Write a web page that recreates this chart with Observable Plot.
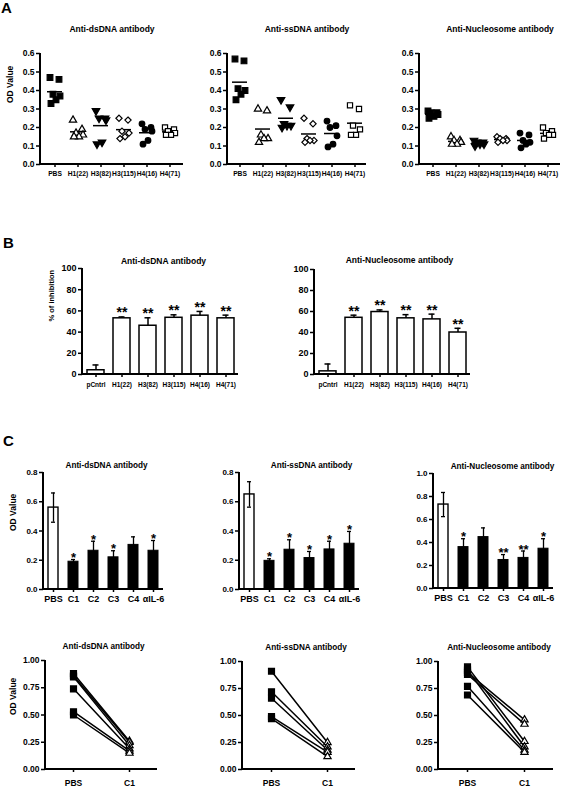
<!DOCTYPE html>
<html>
<head>
<meta charset="utf-8">
<script src="https://cdn.jsdelivr.net/npm/d3@7"></script>
<script src="https://cdn.jsdelivr.net/npm/@observablehq/plot@0.6"></script>
<style>
  html, body { margin: 0; padding: 0; background: #fff; }
  body { width: 563px; height: 787px; position: relative; overflow: hidden;
         font-family: "Liberation Sans", Arial, Helvetica, sans-serif; }
  .letter { position: absolute; font-weight: bold; font-size: 15px; line-height: 15px; color: #000; }
</style>
</head>
<body>
<div class="letter" style="left:1px;top:0px">A</div>
<div class="letter" style="left:3px;top:235px">B</div>
<div class="letter" style="left:3px;top:433px">C</div>
<script>
// ---------------- categories & ticks ----------------
const peptideCats = ["PBS", "H1(22)", "H3(82)", "H3(115)", "H4(16)", "H4(71)"];
const inhibCats = ["pCntrl", "H1(22)", "H3(82)", "H3(115)", "H4(16)", "H4(71)"];
const treatCats = ["PBS", "C1", "C2", "C3", "C4", "αIL-6"];
const pairCats = ["PBS", "C1"];

const aTicks = [0, 0.1, 0.2, 0.3, 0.4, 0.5, 0.6];
const bTicks = [0, 20, 40, 60, 80, 100];
const cTicks08 = [0, 0.2, 0.4, 0.6, 0.8];
const cTicks10 = [0, 0.2, 0.4, 0.6, 0.8, 1.0];
const dTicks = [0, 0.25, 0.5, 0.75, 1.0];

// ---------------- Panel A: OD value per mouse ----------------
const aDsDNA = [
  [0.47, 0.46, 0.38, 0.37, 0.35, 0.33],
  [0.24, 0.19, 0.17, 0.16, 0.15, 0.15],
  [0.29, 0.25, 0.25, 0.24, 0.12, 0.11],
  [0.25, 0.24, 0.18, 0.17, 0.15, 0.14],
  [0.22, 0.20, 0.19, 0.18, 0.13, 0.11],
  [0.20, 0.19, 0.18, 0.17, 0.16, 0.16]
];
const aSsDNA = [
  [0.57, 0.56, 0.41, 0.40, 0.38, 0.35],
  [0.30, 0.29, 0.16, 0.14, 0.14, 0.12],
  [0.35, 0.31, 0.22, 0.21, 0.21, 0.20],
  [0.25, 0.22, 0.14, 0.13, 0.13, 0.12],
  [0.235, 0.21, 0.20, 0.155, 0.11, 0.095],
  [0.32, 0.30, 0.21, 0.19, 0.16, 0.16]
];
const aNucleosome = [
  [0.29, 0.28, 0.28, 0.27, 0.26, 0.25],
  [0.15, 0.13, 0.13, 0.12, 0.11, 0.11],
  [0.13, 0.12, 0.12, 0.11, 0.11, 0.10],
  [0.15, 0.14, 0.14, 0.13, 0.13, 0.12],
  [0.17, 0.16, 0.13, 0.12, 0.11, 0.09],
  [0.20, 0.18, 0.17, 0.16, 0.16, 0.14]
];

// ---------------- Panel B: % of inhibition ----------------
const bDsMean = [4, 53, 46, 53.5, 55.5, 53];
const bDsErr = [5, 1.3, 7.5, 2.8, 4, 3];
const bDsStars = ["", "**", "**", "**", "**", "**"];
const bNucMean = [3, 54, 59.5, 53.5, 52.5, 40];
const bNucErr = [7, 2.5, 2, 3.5, 5, 4];
const bNucStars = ["", "**", "**", "**", "**", "**"];

// ---------------- Panel C (top): OD value bars ----------------
const cDsMean = [0.56, 0.19, 0.265, 0.22, 0.305, 0.265];
const cDsErr = [0.10, 0.015, 0.065, 0.045, 0.055, 0.07];
const cDsStars = ["", "*", "*", "*", "", "*"];
const cSsMean = [0.65, 0.196, 0.272, 0.215, 0.274, 0.313];
const cSsErr = [0.087, 0.014, 0.068, 0.045, 0.056, 0.084];
const cSsStars = ["", "*", "*", "*", "*", "*"];
const cNucMean = [0.73, 0.36, 0.447, 0.248, 0.266, 0.346];
const cNucErr = [0.105, 0.073, 0.08, 0.047, 0.06, 0.087];
const cNucStars = ["", "*", "", "**", "**", "*"];

// ---------------- Panel C (bottom): paired PBS -> C1 ----------------
const dDsPBS = [0.88, 0.86, 0.85, 0.74, 0.53, 0.50];
const dDsC1 = [0.26, 0.25, 0.22, 0.19, 0.17, 0.15];
const dSsPBS = [0.91, 0.72, 0.66, 0.49, 0.47];
const dSsC1 = [0.25, 0.21, 0.18, 0.16, 0.12];
const dNucPBS = [0.90, 0.88, 0.95, 0.92, 0.77, 0.69];
const dNucC1 = [0.46, 0.42, 0.26, 0.21, 0.18, 0.16];

// ---------------- helpers ----------------
const FONT = '"Liberation Sans", Arial, Helvetica, sans-serif';
const M = {l: 52, r: 14, t: 46, b: 30};

function axisFrame(index, scales, values, dims) {
  const {width, height, marginLeft, marginRight, marginTop, marginBottom} = dims;
  const p = document.createElementNS("http://www.w3.org/2000/svg", "path");
  p.setAttribute("d", `M${marginLeft},${marginTop}V${height - marginBottom}H${width - marginRight}`);
  p.setAttribute("fill", "none");
  p.setAttribute("stroke", "black");
  p.setAttribute("stroke-width", "2");
  return p;
}

function render(frame, options, baseFont) {
  const width = frame.x1 - frame.x0 + M.l + M.r;
  const height = frame.yBot - frame.yTop + M.t + M.b;
  const plot = Plot.plot({
    width, height,
    marginLeft: M.l, marginRight: M.r, marginTop: M.t, marginBottom: M.b,
    style: {fontFamily: FONT, fontWeight: "bold", fontSize: baseFont + "px",
            background: "transparent", overflow: "visible", color: "black"},
    ...options
  });
  const div = document.createElement("div");
  div.style.cssText = `position:absolute;left:${frame.x0 - M.l}px;top:${frame.yTop - M.t}px;width:${width}px;height:${height}px;`;
  div.appendChild(plot);
  document.body.appendChild(div);
}

function titleMark(title, dx, dy, size) {
  return Plot.text([title], {text: d => d, frameAnchor: "top", dx, dy, fontSize: size, fontWeight: "bold"});
}
function yLabelMark(label, dx, dy, size) {
  return Plot.text([label], {text: d => d, frameAnchor: "left", rotate: -90, dx, dy, fontSize: size, fontWeight: "bold"});
}

// inverted triangle symbol
const triDown = {
  draw(ctx, size) {
    const y = -Math.sqrt(size / (3 * Math.sqrt(3)));
    ctx.moveTo(0, -y * 2);
    ctx.lineTo(-Math.sqrt(3) * y, y);
    ctx.lineTo(Math.sqrt(3) * y, y);
    ctx.closePath();
  }
};
const aSymbols = [
  {symbol: "square", fill: "black", r: 3.2},
  {symbol: "triangle", fill: "white", r: 2.7},
  {symbol: triDown, fill: "black", r: 2.8},
  {symbol: "diamond2", fill: "white", r: 2.8},
  {symbol: "circle", fill: "black", r: 2.8},
  {symbol: "square", fill: "white", r: 2.9}
];
const spread = [-5, 4, -2, 5, 1, -4];

// ---------------- Panel A plots ----------------
function scatterPlot(frame, title, tdx, groups, showLabel) {
  const means = groups.map((vals, i) => ({cat: peptideCats[i], m: d3.mean(vals)}));
  const marks = [
    Plot.axisY({ticks: aTicks, tickFormat: ".1f", tickSize: 4, tickPadding: 2, fontSize: 8.5, strokeWidth: 1.5, label: null}),
    Plot.axisX({tickSize: 3, tickPadding: 3.5, fontSize: 6.7, strokeWidth: 1.5, label: null}),
    Plot.tickY(means, {x: "cat", y: "m", stroke: "black", strokeWidth: 1.5, inset: 4})
  ];
  groups.forEach((vals, i) => {
    const st = aSymbols[i];
    vals.forEach((v, k) => {
      marks.push(Plot.dot([{cat: peptideCats[i], v}], {
        x: "cat", y: "v", symbol: st.symbol, fill: st.fill, stroke: "black",
        strokeWidth: 1.2, r: st.r, dx: spread[k]
      }));
    });
  });
  marks.push(axisFrame);
  marks.push(titleMark(title, tdx, -28, 8.5));
  if (showLabel) marks.push(yLabelMark("OD Value", -30, -6, 8.5));
  render(frame, {
    x: {type: "band", domain: peptideCats, padding: 0},
    y: {domain: [0, 0.6]},
    marks
  }, 8.5);
}
scatterPlot({x0: 40, x1: 183, yTop: 53, yBot: 164}, "Anti-dsDNA antibody", 0, aDsDNA, true);
scatterPlot({x0: 227, x1: 366, yTop: 53, yBot: 164}, "Anti-ssDNA antibody", 10, aSsDNA, false);
scatterPlot({x0: 419, x1: 560, yTop: 53, yBot: 164}, "Anti-Nucleosome antibody", 10, aNucleosome, false);

// ---------------- Panel B plots ----------------
function inhibitionPlot(frame, title, tdx, tdy, means, errs, stars, showLabel) {
  const rows = inhibCats.map((c, i) => ({cat: c, v: means[i], e: errs[i], s: stars[i]}));
  const marks = [
    Plot.axisY({ticks: bTicks, tickSize: 4, tickPadding: 2, fontSize: 9, strokeWidth: 1.5, label: null}),
    Plot.axisX({tickSize: 3, tickPadding: 4.5, fontSize: 6.5, strokeWidth: 1.5, label: null}),
    Plot.barY(rows, {x: "cat", y: "v", fill: "white", stroke: "black", strokeWidth: 1.5}),
    Plot.ruleX(rows, {x: "cat", y1: "v", y2: d => d.v + d.e, stroke: "black", strokeWidth: 1.5}),
    Plot.tickY(rows, {x: "cat", y: d => d.v + d.e, stroke: "black", strokeWidth: 1.5, inset: 5.5}),
    Plot.text(rows, {x: "cat", y: d => d.v + d.e, text: "s", fontSize: 14, dy: -4, fontWeight: "bold"}),
    axisFrame,
    titleMark(title, tdx, tdy, 8.5)
  ];
  if (showLabel) marks.push(yLabelMark("% of inhibition", -31, 0, 7.5));
  render(frame, {
    x: {type: "band", domain: inhibCats, paddingInner: 0.35, paddingOuter: 0.175},
    y: {domain: [0, 100]},
    marks
  }, 9);
}
inhibitionPlot({x0: 82, x1: 238, yTop: 268, yBot: 374}, "Anti-dsDNA antibody", 3, -10.5, bDsMean, bDsErr, bDsStars, true);
inhibitionPlot({x0: 314, x1: 470, yTop: 269, yBot: 374}, "Anti-Nucleosome antibody", 7, -13, bNucMean, bNucErr, bNucStars, false);

// ---------------- Panel C top plots ----------------
function treatPlot(frame, yMax, ticks, title, tdx, means, errs, stars, showLabel) {
  const rows = treatCats.map((c, i) => ({cat: c, v: means[i], e: errs[i], s: stars[i]}));
  const marks = [
    Plot.axisY({ticks, tickFormat: ".1f", tickSize: 4, tickPadding: 2, fontSize: 8, strokeWidth: 1.5, label: null}),
    Plot.axisX({tickSize: 3, tickPadding: 3, fontSize: 9, strokeWidth: 1.5, label: null}),
    Plot.barY(rows.filter(d => d.cat === "PBS"), {x: "cat", y: "v", fill: "white", stroke: "black", strokeWidth: 1.4}),
    Plot.barY(rows.filter(d => d.cat !== "PBS"), {x: "cat", y: "v", fill: "black", stroke: "black", strokeWidth: 1}),
    Plot.ruleX(rows, {x: "cat", y1: d => d.v - d.e, y2: d => d.v + d.e, stroke: "black", strokeWidth: 1.3}),
    Plot.tickY(rows, {x: "cat", y: d => d.v + d.e, stroke: "black", strokeWidth: 1.3, inset: 3}),
    Plot.tickY(rows, {x: "cat", y: d => d.v - d.e, stroke: "black", strokeWidth: 1.3, inset: 3}),
    Plot.text(rows, {x: "cat", y: d => d.v + d.e, text: "s", fontSize: 13, dy: -1.5, fontWeight: "bold"}),
    axisFrame,
    titleMark(title, tdx, -10, 8.2)
  ];
  if (showLabel) marks.push(yLabelMark("OD Value", -30, 0, 8.5));
  render(frame, {
    x: {type: "band", domain: treatCats, paddingInner: 0.5, paddingOuter: 0.25},
    y: {domain: [0, yMax]},
    marks
  }, 8);
}
treatPlot({x0: 43, x1: 163, yTop: 472, yBot: 589}, 0.8, cTicks08, "Anti-dsDNA antibody", 3, cDsMean, cDsErr, cDsStars, true);
treatPlot({x0: 239, x1: 359, yTop: 472, yBot: 589}, 0.8, cTicks08, "Anti-ssDNA antibody", 12, cSsMean, cSsErr, cSsStars, false);
treatPlot({x0: 433, x1: 553, yTop: 473, yBot: 588}, 1.0, cTicks10, "Anti-Nucleosome antibody", 9, cNucMean, cNucErr, cNucStars, false);

// ---------------- Panel C bottom plots ----------------
function pairedPlot(frame, title, tdx, pbs, c1, showLabel) {
  const rows = pbs.flatMap((v, i) => [{id: i, grp: "PBS", v}, {id: i, grp: "C1", v: c1[i]}]);
  const marks = [
    Plot.axisY({ticks: dTicks, tickFormat: ".2f", tickSize: 4, tickPadding: 2, fontSize: 8.5, strokeWidth: 1.5, label: null}),
    Plot.axisX({tickSize: 3, tickPadding: 7, fontSize: 8.5, strokeWidth: 1.5, label: null}),
    Plot.line(rows, {x: "grp", y: "v", z: "id", stroke: "black", strokeWidth: 1.5}),
    Plot.dot(rows.filter(d => d.grp === "PBS"), {x: "grp", y: "v", symbol: "square", fill: "black", stroke: "black", r: 3.2}),
    Plot.dot(rows.filter(d => d.grp === "C1"), {x: "grp", y: "v", symbol: "triangle", fill: "white", stroke: "black", strokeWidth: 1.2, r: 2.7}),
    axisFrame,
    titleMark(title, tdx, -17, 8.2)
  ];
  if (showLabel) marks.push(yLabelMark("OD Value", -32, 0, 8.5));
  render(frame, {
    x: {type: "point", domain: pairCats, padding: 0.5},
    y: {domain: [0, 1]},
    marks
  }, 8.5);
}
pairedPlot({x0: 45, x1: 157, yTop: 660, yBot: 769}, "Anti-dsDNA antibody", 2, dDsPBS, dDsC1, true);
pairedPlot({x0: 242, x1: 355, yTop: 661, yBot: 769}, "Anti-ssDNA antibody", 7, dSsPBS, dSsC1, false);
pairedPlot({x0: 438, x1: 553, yTop: 661, yBot: 769}, "Anti-Nucleosome antibody", 3, dNucPBS, dNucC1, false);
</script>
</body>
</html>
